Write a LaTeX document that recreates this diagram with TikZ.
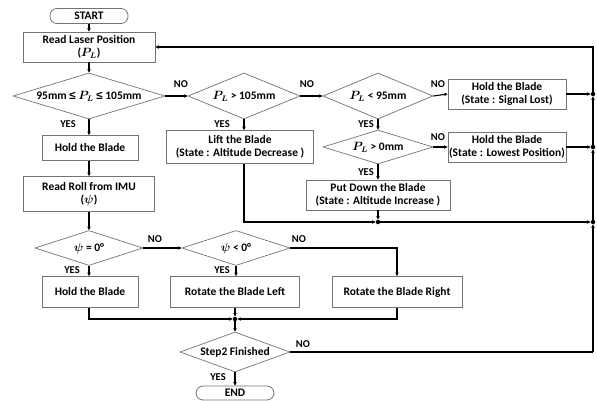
\documentclass[tikz,border=0pt]{standalone}
\usepackage{amsmath}
\usepackage{fontspec}
\setmainfont{Carlito}
\newfontfamily\symfont{Liberation Sans}
\usetikzlibrary{shapes.geometric,arrows.meta}
\begin{document}
\begin{tikzpicture}[x=1pt,y=-1pt,
  font=\bfseries\fontsize{11.5}{12.5}\selectfont,
  box/.style={draw=black!55,line width=0.8pt,inner sep=0pt,align=center},
  term/.style={draw=black!55,line width=0.8pt,inner sep=0pt,rounded corners=7pt},
  dec/.style={draw=black!55,line width=0.7pt,diamond,inner sep=0pt,shape aspect=3,align=center},
  jdot/.style={circle,fill=black,inner sep=0pt,minimum size=4.5pt},
  lbl/.style={inner sep=0pt,font=\bfseries\fontsize{10.5}{11}\selectfont},
  conn/.style={line width=1.1pt,-{Stealth[length=3.5pt,width=3.5pt]}},
  line/.style={line width=1.1pt}]
\useasboundingbox (0,0) rectangle (597,401);
% nodes
\node[term,minimum width=78pt,minimum height=15pt] (start) at (89,16) {START};
\node[box,minimum width=132pt,minimum height=30pt] (rlp) at (89,47) {Read Laser Position\\($\boldsymbol{P_L}$)};
\node[dec,minimum width=152pt,minimum height=46pt,shape aspect=4] (d1) at (89,96) {95mm {\symfont ≤} $\boldsymbol{P_L}$ {\symfont ≤} 105mm};
\node[dec,minimum width=112pt,minimum height=46pt] (d2) at (244,96) {$\boldsymbol{P_L}$ > 105mm};
\node[dec,minimum width=110pt,minimum height=46pt] (d3) at (378,96) {$\boldsymbol{P_L}$ < 95mm};
\node[box,minimum width=118pt,minimum height=30pt] (sl) at (507,94) {Hold the Blade\\(State : Signal Lost)};
\node[dec,minimum width=110pt,minimum height=34pt] (d4) at (378,147) {$\boldsymbol{P_L}$ > 0mm};
\node[box,minimum width=118pt,minimum height=30pt] (lp) at (507,147) {Hold the Blade\\(State : Lowest Position)};
\node[box,minimum width=147pt,minimum height=33pt] (lift) at (240,147) {Lift the Blade\\(State : Altitude Decrease )};
\node[box,minimum width=144pt,minimum height=30pt] (put) at (378,195) {Put Down the Blade\\(State : Altitude Increase )};
\node[box,minimum width=96pt,minimum height=25pt] (hold1) at (90,148) {Hold the Blade};
\node[box,minimum width=131pt,minimum height=35pt] (rroll) at (89,194) {Read Roll from IMU\\($\boldsymbol{\psi}$)};
\node[dec,minimum width=108pt,minimum height=35pt] (d5) at (89,248) {$\boldsymbol{\psi}$ = 0°};
\node[dec,minimum width=108pt,minimum height=35pt] (d6) at (236,248) {$\boldsymbol{\psi}$ < 0°};
\node[box,minimum width=96pt,minimum height=31pt] (hold2) at (90,292) {Hold the Blade};
\node[box,minimum width=129pt,minimum height=31pt] (rleft) at (235,292) {Rotate the Blade Left};
\node[box,minimum width=130pt,minimum height=31pt] (rright) at (397,292) {Rotate the Blade Right};
\node[dec,minimum width=110pt,minimum height=40pt] (d7) at (235,352) {Step2 Finished};
\node[term,minimum width=78pt,minimum height=14pt] (end) at (235,393) {END};
% junctions
\node[jdot] (j1) at (593,94) {};
\node[jdot] (j2) at (593,147) {};
\node[jdot] (j3) at (593,222) {};
\node[jdot] (jm) at (378,222) {};
\node[jdot] (jb) at (235,319) {};
\coordinate (c1) at (593,47);
\coordinate (c2) at (593,352);
% labels
\node[lbl] (n1) at (181,84) {NO};
\node[lbl] (n2) at (307,84) {NO};
\node[lbl] (n3) at (438,84) {NO};
\node[lbl] (n4) at (438,137) {NO};
\node[lbl] (n5) at (155,239) {NO};
\node[lbl] (n6) at (299,239) {NO};
\node[lbl] (n7) at (303,344) {NO};
\node[lbl] (y1) at (68,124) {YES};
\node[lbl] (y2) at (222,124) {YES};
\node[lbl] (y3) at (366,124) {YES};
\node[lbl] (y4) at (366,172) {YES};
\node[lbl] (y5) at (72,270) {YES};
\node[lbl] (y6) at (222,270) {YES};
\node[lbl] (y7) at (218,377) {YES};
% connectors
\draw[conn] (start) -- (rlp);
\draw[conn] (rlp) -- (d1);
\draw[conn] (d1.east) -- (d2.west);
\draw[conn] (d2.east) -- (d3.west);
\draw[conn] (d3.east) -- (sl.west);
\draw[conn] (sl.east) -- (j1);
\draw[conn] (d3.south) -- (d4.north);
\draw[conn] (d4.east) -- (lp.west);
\draw[conn] (lp.east) -- (j2);
\draw[conn] (d4.south) -- (put.north);
\draw[conn] (d2.south) -- (d2.south |- lift.north);
\draw[conn] (d2.south |- lift.south) |- (jm);
\draw[conn] (put.south) -- (jm);
\draw[conn] (jm) -- (j3);
\draw[conn] (d1.south) -- (d1.south |- hold1.north);
\draw[conn] (hold1.south -| rroll) -- (rroll.north);
\draw[conn] (rroll) -- (d5);
\draw[conn] (d5.east) -- (d6.west);
\draw[conn] (d5.south) -- (d5.south |- hold2.north);
\draw[conn] (d6.south) -- (d6.south |- rleft.north);
\draw[conn] (d6.east) -| (rright.north);
\draw[conn] (hold2.south -| d5) |- (jb);
\draw[conn] (rright.south) |- (jb);
\draw[conn] (rleft.south) -- (jb);
\draw[conn] (jb) -- (d7.north);
\draw[line] (d7.east) -- (c2);
\draw[conn] (c2) -- (j3);
\draw[conn] (j3) -- (j2);
\draw[conn] (j2) -- (j1);
\draw[conn] (j1) -- (c1) -- (rlp.east);
\draw[conn] (d7.south) -- (end.north);
\end{tikzpicture}
\end{document}
